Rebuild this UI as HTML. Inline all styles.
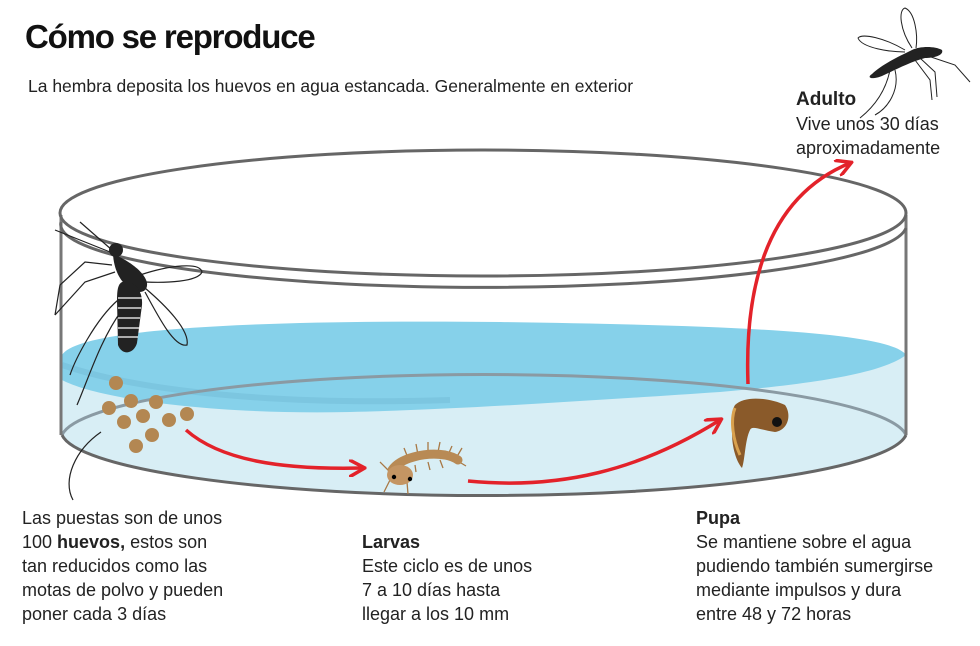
<!DOCTYPE html>
<html><head><meta charset="utf-8"><style>
html,body{margin:0;padding:0;background:#fff;}
svg{display:block;font-family:"Liberation Sans",sans-serif;}
</style></head><body>
<svg width="980" height="646" viewBox="0 0 980 646">
<defs>
<marker id="ah" viewBox="0 0 10 10" refX="8" refY="5" markerWidth="5" markerHeight="5" orient="auto"><path d="M0,0 L9,5 L0,10" fill="none" stroke="#e3222a" stroke-width="2"/></marker>
</defs>
<!-- light water -->
<path d="M62,360 C200,330 750,330 906,355 L906,435 A423,65 0 0 1 62,435 Z" fill="#d8eef5"/>
<!-- dark water surface -->
<path d="M62,355 C80,325 300,320 500,322 C700,325 890,330 906,355 C880,375 800,385 720,392 C600,400 450,410 350,412 C220,415 100,400 62,380 Z" fill="#86d1ea"/>
<path d="M62,365 C150,395 300,405 450,400" stroke="#7cc6e0" stroke-width="6" fill="none"/>
<!-- bottom ellipse -->
<path d="M62,435 A423,65 0 0 1 906,435" fill="none" stroke="#8a9aa3" stroke-width="3"/>
<path d="M62,435 A423,65 0 0 0 906,435" fill="none" stroke="#666" stroke-width="3"/>
<!-- sides -->
<line x1="61" y1="215" x2="61" y2="435" stroke="#777" stroke-width="3"/>
<line x1="906" y1="215" x2="906" y2="435" stroke="#777" stroke-width="3"/>
<!-- rim -->
<ellipse cx="483" cy="213" rx="423" ry="63" fill="none" stroke="#666" stroke-width="3"/>
<path d="M61,222 A423,63 0 0 0 906,228" fill="none" stroke="#666" stroke-width="3"/>
<!-- eggs -->
<g fill="#b38752">
<circle cx="116" cy="383" r="7"/><circle cx="109" cy="408" r="7"/><circle cx="131" cy="401" r="7"/><circle cx="156" cy="402" r="7"/>
<circle cx="124" cy="422" r="7"/><circle cx="143" cy="416" r="7"/><circle cx="169" cy="420" r="7"/><circle cx="187" cy="414" r="7"/>
<circle cx="152" cy="435" r="7"/><circle cx="136" cy="446" r="7"/>
</g>
<path d="M101,432 C75,450 62,480 73,500" fill="none" stroke="#222" stroke-width="1.2"/>
<!-- mosquito left -->
<g stroke="#222" fill="none" stroke-width="1.2">
<path d="M112,250 L80,222"/><path d="M110,252 L55,230"/><path d="M112,265 L85,262 L60,285 L55,315"/><path d="M115,272 L85,282 L55,315"/>
<path d="M118,300 C95,320 75,360 70,375"/><path d="M122,310 C100,340 88,380 77,405"/>
<path d="M140,275 C170,265 200,262 202,272 C198,282 165,283 145,282"/>
<path d="M145,288 C165,305 190,330 187,345 C175,348 160,320 145,292"/>
</g>
<circle cx="116" cy="250" r="7" fill="#222"/>
<path d="M113,254 C128,260 145,272 147,283 C148,292 140,294 132,290 C122,284 114,272 113,254Z" fill="#222"/>
<path d="M122,282 C134,280 143,290 142,305 L137,343 C134,354 122,356 118,345 L117,300 C117,290 118,284 122,282Z" fill="#222"/>
<g stroke="#fff" stroke-width="1.2"><path d="M118,298 L142,298 M118,308 L141,308 M118,318 L140,318 M118,328 L139,328 M118,337 L138,337"/></g>
<!-- larva -->
<g stroke="#a87845" stroke-width="1.3" fill="none">
<path d="M408,458 L404,448 M418,455 L416,444 M428,453 L428,442 M438,452 L440,442 M448,455 L452,446 M415,465 L416,472 M428,462 L430,470 M440,460 L443,468 M455,460 L462,448 M456,460 L466,466 M390,480 L384,492 M407,482 L408,494 M388,470 L380,462"/>
</g>
<path d="M392,470 C400,458 425,452 445,455 C450,456 455,458 458,460" stroke="#b88a55" stroke-width="9" fill="none" stroke-linecap="round"/>
<ellipse cx="400" cy="475" rx="13" ry="10" fill="#c49563"/>
<circle cx="394" cy="477" r="2.2" fill="#000"/><circle cx="410" cy="479" r="2.2" fill="#000"/>
<!-- pupa -->
<path d="M735,405 C745,395 770,398 785,405 C792,415 788,430 775,432 C760,430 752,425 750,430 C745,440 745,460 742,468 C735,460 730,440 733,425 C731,415 732,410 735,405Z" fill="#8a5a2a"/>
<path d="M735,408 C730,420 733,440 740,455" stroke="#d9a14e" stroke-width="3" fill="none"/>
<ellipse cx="777" cy="422" rx="5" ry="5" fill="#111"/>
<!-- red arrows -->
<g stroke="#e3222a" stroke-width="3.5" fill="none" marker-end="url(#ah)">
<path d="M186,430 C220,460 280,470 363,468"/>
<path d="M468,481 C560,490 640,470 720,420"/>
<path d="M748,384 C745,300 760,200 850,163"/>
</g>
<!-- adult mosquito -->
<g stroke="#222" fill="none" stroke-width="1">
<path d="M912,48 C900,30 898,10 905,8 C915,12 918,35 916,48"/>
<path d="M905,50 C885,38 862,33 858,38 C862,48 890,52 905,52"/>
<path d="M925,55 L955,65 L970,82"/><path d="M920,58 L935,72 L937,97"/><path d="M915,60 L930,80 L932,100"/>
<path d="M890,70 C885,95 870,110 860,118"/><path d="M895,70 C900,90 888,108 875,115"/>
</g>
<path d="M872,74 C882,64 900,56 912,50 C920,46 935,46 942,50 C944,55 935,58 925,58 C910,62 895,70 882,76 C872,80 866,78 872,74Z" fill="#222"/>
<!-- text -->
<text x="25" y="48" font-size="33" font-weight="bold" fill="#111" letter-spacing="-1.2">Cómo se reproduce</text>
<text x="28" y="92" font-size="17.5" fill="#222">La hembra deposita los huevos en agua estancada. Generalmente en exterior</text>
<g font-size="18" fill="#222">
<text x="796" y="105" font-weight="bold" font-size="19">Adulto</text>
<text x="796" y="130">Vive unos 30 días</text>
<text x="796" y="154">aproximadamente</text>
<text x="22" y="524">Las puestas son de unos</text>
<text x="22" y="548">100 <tspan font-weight="bold">huevos,</tspan> estos son</text>
<text x="22" y="572">tan reducidos como las</text>
<text x="22" y="596">motas de polvo y pueden</text>
<text x="22" y="620">poner cada 3 días</text>
<text x="362" y="548" font-weight="bold">Larvas</text>
<text x="362" y="572">Este ciclo es de unos</text>
<text x="362" y="596">7 a 10 días hasta</text>
<text x="362" y="620">llegar a los 10 mm</text>
<text x="696" y="524" font-weight="bold">Pupa</text>
<text x="696" y="548">Se mantiene sobre el agua</text>
<text x="696" y="572">pudiendo también sumergirse</text>
<text x="696" y="596">mediante impulsos y dura</text>
<text x="696" y="620">entre 48 y 72 horas</text>
</g>
</svg>
</body></html>
